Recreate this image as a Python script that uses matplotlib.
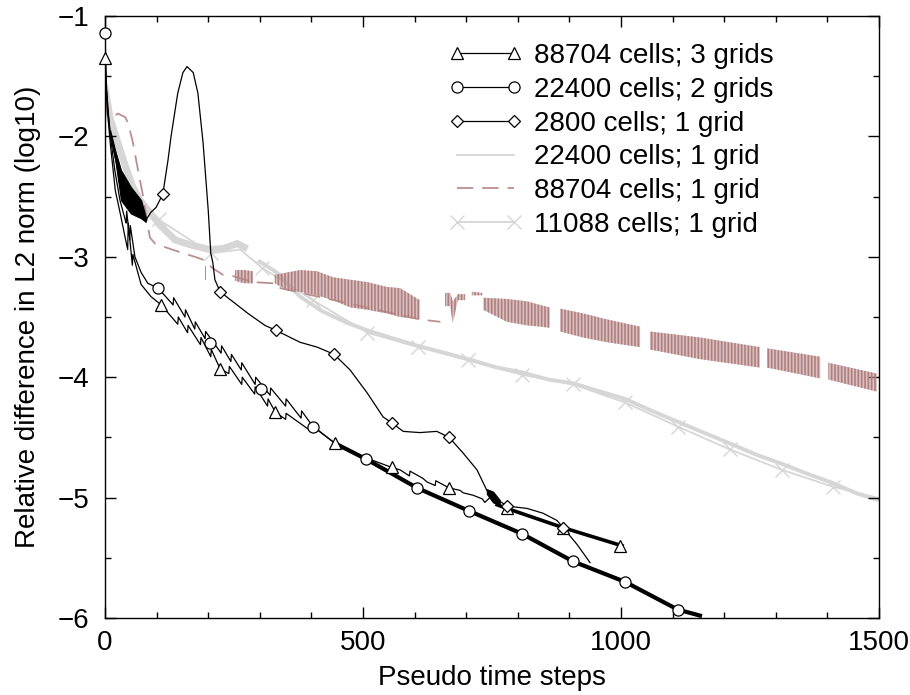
import numpy as np
import matplotlib.pyplot as plt
from matplotlib.lines import Line2D

plt.rcParams['font.family'] = ['Liberation Sans', 'DejaVu Sans']
plt.rcParams['hatch.linewidth'] = 1.2

nan = np.nan

# 88704 cells; 3 grids
tri_x = [0, 4, 10, 20, 30, 40, 44, 45, 53, 54, 70, 89, 109,
         141, 142, 160, 161, 185, 186, 205, 206, 223,
         240, 241, 265, 266, 290, 291, 315, 316, 330,
         350, 351, 400, 401, 446, 500, 556, 572, 590, 591,
         616, 624, 640, 641, 667, 688, 694, 713, 731, 736,
         746, 760, 779, 888, 1002]
tri_y = [-1.35, -1.75, -2.05, -2.45, -2.65, -2.86, -2.94, -2.72, -3.07, -2.98, -3.23, -3.33, -3.40,
         -3.56, -3.50, -3.63, -3.57, -3.73, -3.67, -3.83, -3.77, -3.93,
         -3.97, -3.91, -4.06, -4.00, -4.14, -4.08, -4.24, -4.18, -4.29,
         -4.35, -4.30, -4.45, -4.40, -4.55, -4.66, -4.75, -4.77, -4.82, -4.78,
         -4.84, -4.87, -4.90, -4.86, -4.92, -4.94, -4.96, -4.98, -5.01, -5.04,
         -5.00, -5.06, -5.09, -5.25, -5.40]
tri_mx = [0, 109, 223, 330, 446, 556, 667, 779, 888, 998]
tri_my = [-1.35, -3.40, -3.93, -4.29, -4.55, -4.75, -4.92, -5.09, -5.25, -5.40]

# 22400 cells; 2 grids
circ_x = [0, 3, 8, 12, 19, 29, 39, 41, 42, 48, 49, 58, 70, 83, 103,
          132, 133, 155, 156, 174, 175, 194, 195, 225, 226,
          244, 245, 264, 265, 291, 292, 320, 321, 350, 351,
          380, 381, 403, 446, 506, 605, 705, 808, 907, 1008,
          1110, 1153]
circ_y = [-1.14, -1.60, -1.90, -2.05, -2.28, -2.53, -2.69, -2.72, -2.62, -2.86, -2.74, -3.00, -3.13, -3.22, -3.26,
          -3.40, -3.34, -3.50, -3.44, -3.60, -3.54, -3.68, -3.62, -3.80, -3.74,
          -3.87, -3.81, -3.94, -3.88, -4.06, -4.00, -4.15, -4.09, -4.24, -4.18,
          -4.34, -4.28, -4.41, -4.55, -4.68, -4.92, -5.11, -5.30, -5.53, -5.70,
          -5.93, -5.98]
circ_mx = [0, 103, 203, 302, 403, 506, 605, 705, 808, 907, 1008, 1110]
circ_my = [-1.14, -3.26, -3.72, -4.10, -4.41, -4.68, -4.92, -5.11, -5.30, -5.53, -5.70, -5.93]

# 2800 cells; 1 grid
dia_x = [0, 5, 10, 31, 50, 70, 79, 83, 89, 99,
         112, 122, 128, 141, 151, 159, 171, 180, 190, 200,
         205, 209, 213, 223, 244, 277, 310, 331, 378, 411,
         444, 475, 508, 539, 556, 578, 610, 643, 667, 694,
         721, 740, 752, 765, 779, 818, 849, 876, 888, 915,
         940]
dia_y = [-1.45, -1.75, -1.97, -2.40, -2.53, -2.60, -2.70, -2.67, -2.63, -2.59,
         -2.48, -2.20, -2.00, -1.64, -1.47, -1.42, -1.47, -1.64, -2.05, -2.61,
         -2.97, -3.05, -3.19, -3.29, -3.36, -3.47, -3.57, -3.61, -3.71, -3.75,
         -3.81, -3.94, -4.13, -4.33, -4.38, -4.45, -4.46, -4.45, -4.50, -4.63,
         -4.77, -4.94, -5.00, -5.03, -5.07, -5.09, -5.13, -5.19, -5.25, -5.39,
         -5.54]
dia_mx = [112, 223, 331, 444, 556, 667, 779, 888]
dia_my = [-2.48, -3.29, -3.61, -3.81, -4.38, -4.50, -5.07, -5.25]
wedge_x = [10, 20, 31, 50, 70, 79]
wedge_hi = [-1.95, -2.12, -2.28, -2.42, -2.53, -2.67]
wedge_lo = [-2.00, -2.20, -2.53, -2.64, -2.68, -2.71]
clus_x = [740, 752, 765]
clus_hi = [-4.93, -4.95, -5.02]
clus_lo = [-4.97, -5.04, -5.06]

# 22400 cells; 1 grid
g22_x = [0, 10, 19, 30, 39, 54, 68, 83, 107, 136,
         165, 203, 230, 256, 270, 300, 333, 378, 420, 470,
         508, 560, 607, 660, 704, 760, 808, 860, 907, 960,
         1008, 1060, 1110, 1160, 1211, 1260, 1312, 1360, 1411, 1460,
         1500]
g22_y = [-1.60, -1.85, -1.97, -2.12, -2.24, -2.42, -2.53, -2.61, -2.74, -2.86,
         -2.90, -2.94, -2.93, -2.89, -2.92, -3.04, -3.13, -3.33, -3.45, -3.55,
         -3.61, -3.68, -3.74, -3.80, -3.85, -3.92, -3.96, -4.02, -4.05, -4.12,
         -4.18, -4.28, -4.37, -4.46, -4.55, -4.64, -4.72, -4.80, -4.88, -4.97,
         -5.02]

# 88704 cells; 1 grid
rd_x = [0, 6, 15, 25, 39, 45, 54, 64, 74, 81, 87, 97, 130, 174, 194,
        207, 229, 248, 287, 326, 329, 610, 650]
rd_y = [-1.70, -1.84, -1.84, -1.81, -1.84, -1.89, -2.05, -2.28, -2.50, -2.69, -2.84, -2.89, -2.94, -3.00, -3.03,
        -3.09, -3.15, -3.16, -3.21, -3.22, -3.25, -3.52, -3.54]
rb_x = [194, 196, 200, 252, 270, 287, 300, 329, 353, 378,
        411, 442, 475, 508, 546, 572, 610, 630, 659, 669,
        674, 684, 698, 705, 711, 731, 732, 733, 779, 818,
        843, 862, 872, 882, 926, 973, 1037, 1050, 1056, 1153,
        1269, 1276, 1283, 1386, 1394, 1402, 1496]
rb_hi = [-3.08, -3.08, nan, -3.11, -3.11, -3.12, nan, -3.15, -3.13, -3.11,
         -3.12, -3.17, -3.19, -3.21, -3.25, -3.26, -3.36, nan, -3.30, -3.30,
         -3.37, -3.31, -3.31, nan, -3.29, -3.30, nan, -3.34, -3.35, -3.37,
         -3.40, -3.42, nan, -3.43, -3.47, -3.52, -3.58, nan, -3.62, -3.67,
         -3.75, nan, -3.76, -3.83, nan, -3.88, -3.97]
rb_lo = [-3.19, -3.19, nan, -3.20, -3.22, -3.22, nan, -3.22, -3.28, -3.29,
         -3.32, -3.36, -3.42, -3.44, -3.47, -3.50, -3.52, nan, -3.41, -3.41,
         -3.55, -3.36, -3.36, nan, -3.32, -3.32, nan, -3.44, -3.54, -3.57,
         -3.58, -3.59, nan, -3.62, -3.67, -3.71, -3.75, nan, -3.77, -3.85,
         -3.92, nan, -3.92, -4.01, nan, -4.02, -4.12]

# 11088 cells; 1 grid
gx_x = [0, 10, 30, 55, 80, 104, 205, 262, 304, 403, 508, 607, 704, 808,
        907, 1008, 1110, 1211, 1312, 1411, 1496]
gx_y = [-1.55, -1.90, -2.15, -2.42, -2.58, -2.69, -2.97, -2.94, -3.09, -3.36, -3.63, -3.75, -3.86, -3.98,
        -4.06, -4.21, -4.41, -4.60, -4.77, -4.91, -5.00]
gx_mx = [104, 205, 304, 403, 508, 607, 704, 808, 907, 1008, 1110, 1211, 1312, 1411]
gx_my = [-2.69, -2.97, -3.09, -3.36, -3.63, -3.75, -3.86, -3.98, -4.06, -4.21, -4.41, -4.60, -4.77, -4.91]

labels = ["88704 cells; 3 grids", "22400 cells; 2 grids", "2800 cells; 1 grid",
          "22400 cells; 1 grid", "88704 cells; 1 grid", "11088 cells; 1 grid"]

gray = "#d6d6d6"
rosy = "#bc8f8f"

fig = plt.figure(figsize=(9.1, 6.95), dpi=100)
ax = fig.add_axes([105 / 910, 77 / 695, 774 / 910, 602 / 695])

# light gray curves
gx = np.array(g22_x)
gy = np.array(g22_y)
early = gx <= 270
ax.plot(gx_x, gx_y, color=gray, lw=1.3, zorder=1)
ax.plot(gx_mx, gx_my, ls="none", marker="x", ms=10, mew=1.0, color=gray, zorder=1)
ax.plot(gx[early], gy[early], color=gray, lw=5, zorder=1.1)
ax.plot(gx[~early], gy[~early], color=gray, lw=2.8, zorder=1.1)

# rosy curve: dashed smooth part plus oscillating band
ax.plot(rd_x, rd_y, color=rosy, lw=1.3, dashes=(9, 5), zorder=2)
ax.fill_between(rb_x, rb_lo, rb_hi, facecolor=(0.74, 0.56, 0.56, 0.55),
                edgecolor="#b07e7e", hatch="|||||", lw=0, zorder=2)

# black curves
k = dict(color="black", lw=0.9, zorder=3)
ax.plot(tri_x, tri_y, **k)
tx = np.array(tri_x)
ty = np.array(tri_y)
ax.plot(tx[tx >= 755], ty[tx >= 755], color="black", lw=2.6, zorder=3)
ax.plot(circ_x, circ_y, **k)
cx = np.array(circ_x)
cy = np.array(circ_y)
ax.plot(cx[cx >= 446], cy[cx >= 446], color="black", lw=3.0, zorder=3)
ax.plot(dia_x, dia_y, **k)
ax.fill_between(wedge_x, wedge_lo, wedge_hi, color="black", lw=0.8, zorder=3)
ax.fill_between(clus_x, clus_lo, clus_hi, color="black", lw=0.8, zorder=3)

mk = dict(ls="none", mfc="white", mec="black", mew=0.9, zorder=4, clip_on=False)
ax.plot(tri_mx, tri_my, marker="^", ms=8, **mk)
ax.plot(circ_mx, circ_my, marker="o", ms=8, **mk)
ax.plot(dia_mx, dia_my, marker="D", ms=6, **mk)

handles = [
    Line2D([], [], color="black", lw=0.9, marker="^", ms=8, mfc="white", mec="black", mew=0.9),
    Line2D([], [], color="black", lw=0.9, marker="o", ms=8, mfc="white", mec="black", mew=0.9),
    Line2D([], [], color="black", lw=0.9, marker="D", ms=6, mfc="white", mec="black", mew=0.9),
    Line2D([], [], color=gray, lw=1.3),
    Line2D([], [], color=rosy, lw=1.3, dashes=(9, 5)),
    Line2D([], [], color=gray, lw=1.3, marker="x", ms=10, mew=1.0),
]
fig.legend(handles, labels, loc="upper left", bbox_to_anchor=(449 / 910, 1 - 43 / 695),
           frameon=False, fontsize=20, numpoints=2, handlelength=2.65, handletextpad=0.4,
           labelspacing=0.28, borderpad=0, borderaxespad=0)

ax.set_xlim(0, 1500)
ax.set_ylim(-6, -1)
ax.set_xticks([0, 500, 1000, 1500])
ax.set_xticks(np.arange(0, 1501, 100), minor=True)
ax.set_yticks([-6, -5, -4, -3, -2, -1])
ax.set_yticks(np.arange(-6, -0.9, 0.5), minor=True)
ax.tick_params(which="both", direction="in", top=True, right=True, labelsize=20, width=1)
ax.tick_params(which="major", length=8)
ax.tick_params(which="minor", length=4)
ax.tick_params(axis="x", pad=9)
ax.tick_params(axis="y", pad=11)
for s in ax.spines.values():
    s.set_linewidth(1.0)
ax.set_xlabel("Pseudo time steps", fontsize=20, labelpad=6)
ax.set_ylabel("Relative difference in L2 norm (log10)", fontsize=20, labelpad=12)

fig.savefig("out.png", dpi=100)
